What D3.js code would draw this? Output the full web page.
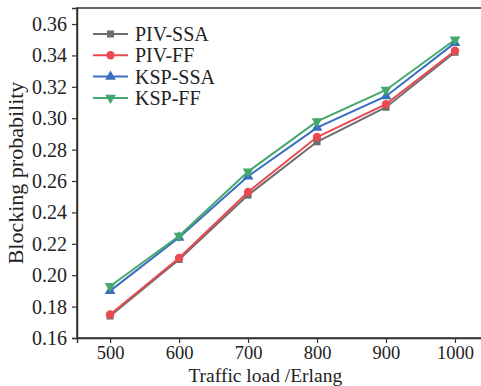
<!DOCTYPE html>
<html lang="en">
<head>
<meta charset="UTF-8">
<title>Blocking probability</title>
<script src="https://d3js.org/d3.v7.min.js"></script>
<style>
  body { margin: 0; background: #fff; }
  svg text { font-family: "Liberation Serif", "DejaVu Serif", serif; fill: #222; }
</style>
</head>
<body>
<div id="chart"></div>
<script>
var loads = [500, 600, 700, 800, 900, 1000];
var yTicks = [0.16, 0.18, 0.20, 0.22, 0.24, 0.26, 0.28, 0.30, 0.32, 0.34, 0.36];
var seriesNames = ['PIV-SSA', 'PIV-FF', 'KSP-SSA', 'KSP-FF'];
var pivSSA = [0.174, 0.210, 0.251, 0.285, 0.307, 0.342];
var pivFF  = [0.175, 0.211, 0.253, 0.288, 0.309, 0.343];
var kspSSA = [0.190, 0.224, 0.263, 0.294, 0.314, 0.348];
var kspFF  = [0.193, 0.225, 0.266, 0.298, 0.318, 0.350];
var seriesColors = ['#6e6e6e', '#e84a50', '#3a6ec0', '#44a86c'];
var seriesSymbols = [d3.symbolSquare, d3.symbolCircle, d3.symbolTriangle, d3.symbolTriangle];

var series = [pivSSA, pivFF, kspSSA, kspFF].map(function(vals, i) {
  return { name: seriesNames[i], color: seriesColors[i], symbol: seriesSymbols[i], flip: i === 3, values: vals };
});

var W = 481, H = 386;
var margin = { top: 8, right: -5, bottom: 48, left: 77 };
var width = W - margin.left - margin.right,
    height = H - margin.top - margin.bottom;

var svg = d3.select('#chart').append('svg')
  .attr('width', W)
  .attr('height', H);

var g = svg.append('g')
  .attr('transform', 'translate(' + margin.left + ',' + margin.top + ')');

var x = d3.scaleLinear().domain([452, 1045]).range([0, width]);
var y = d3.scaleLinear().domain([0.16, 0.3702]).range([height, 0]);

// frame
g.append('rect')
  .attr('x', 0).attr('y', 0)
  .attr('width', width).attr('height', height)
  .attr('fill', 'none')
  .attr('stroke', '#333')
  .attr('stroke-width', 1.5);

var xAxis = g.append('g')
  .attr('transform', 'translate(0,' + height + ')')
  .call(d3.axisBottom(x).tickValues(loads).tickSize(5).tickPadding(3).tickFormat(d3.format('d')));
var yAxis = g.append('g')
  .call(d3.axisLeft(y).tickValues(yTicks).tickSize(5).tickPadding(5).tickFormat(d3.format('.2f')));

[xAxis, yAxis].forEach(function(ax, k) {
  ax.select('.domain').attr('stroke', '#333').attr('stroke-width', 1.5);
  ax.selectAll('.tick line').attr('stroke', '#333').attr('stroke-width', 1.2);
  ax.selectAll('.tick text')
    .attr('font-family', '"Liberation Serif", serif')
    .attr('font-size', k === 0 ? 18.5 : 20)
    .attr('fill', '#222');
});

var line = d3.line()
  .x(function(d, i) { return x(loads[i]); })
  .y(function(d) { return y(d); });

series.forEach(function(s) {
  g.append('path')
    .datum(s.values)
    .attr('fill', 'none')
    .attr('stroke', s.color)
    .attr('stroke-width', 2)
    .attr('d', line);

  g.selectAll(null)
    .data(s.values)
    .enter().append('path')
    .attr('d', d3.symbol().type(s.symbol).size(s.symbol === d3.symbolCircle ? 55 : 50))
    .attr('transform', function(d, i) {
      return 'translate(' + x(loads[i]) + ',' + y(d) + ')' + (s.flip ? ' rotate(180)' : '');
    })
    .attr('fill', s.color);
});

// legend
var legend = g.append('g').attr('transform', 'translate(16, 26)');
series.forEach(function(s, i) {
  var row = legend.append('g').attr('transform', 'translate(0,' + (i * 21.3) + ')');
  row.append('line')
    .attr('x1', 0).attr('x2', 35)
    .attr('stroke', s.color).attr('stroke-width', 2);
  row.append('path')
    .attr('d', d3.symbol().type(s.symbol).size(s.symbol === d3.symbolCircle ? 55 : 50))
    .attr('transform', 'translate(17.5,0)' + (s.flip ? ' rotate(180)' : ''))
    .attr('fill', s.color);
  row.append('text')
    .attr('x', 42).attr('y', 7)
    .attr('font-size', 20)
    .text(s.name);
});

// axis titles
svg.append('text')
  .attr('x', margin.left + x(725))
  .attr('y', 381.5)
  .attr('text-anchor', 'middle')
  .attr('font-size', 19.5)
  .text('Traffic load /Erlang');

svg.append('text')
  .attr('transform', 'translate(23,' + (margin.top + height / 2) + ') rotate(-90)')
  .attr('text-anchor', 'middle')
  .attr('font-size', 22)
  .text('Blocking probability');
</script>
</body>
</html>
